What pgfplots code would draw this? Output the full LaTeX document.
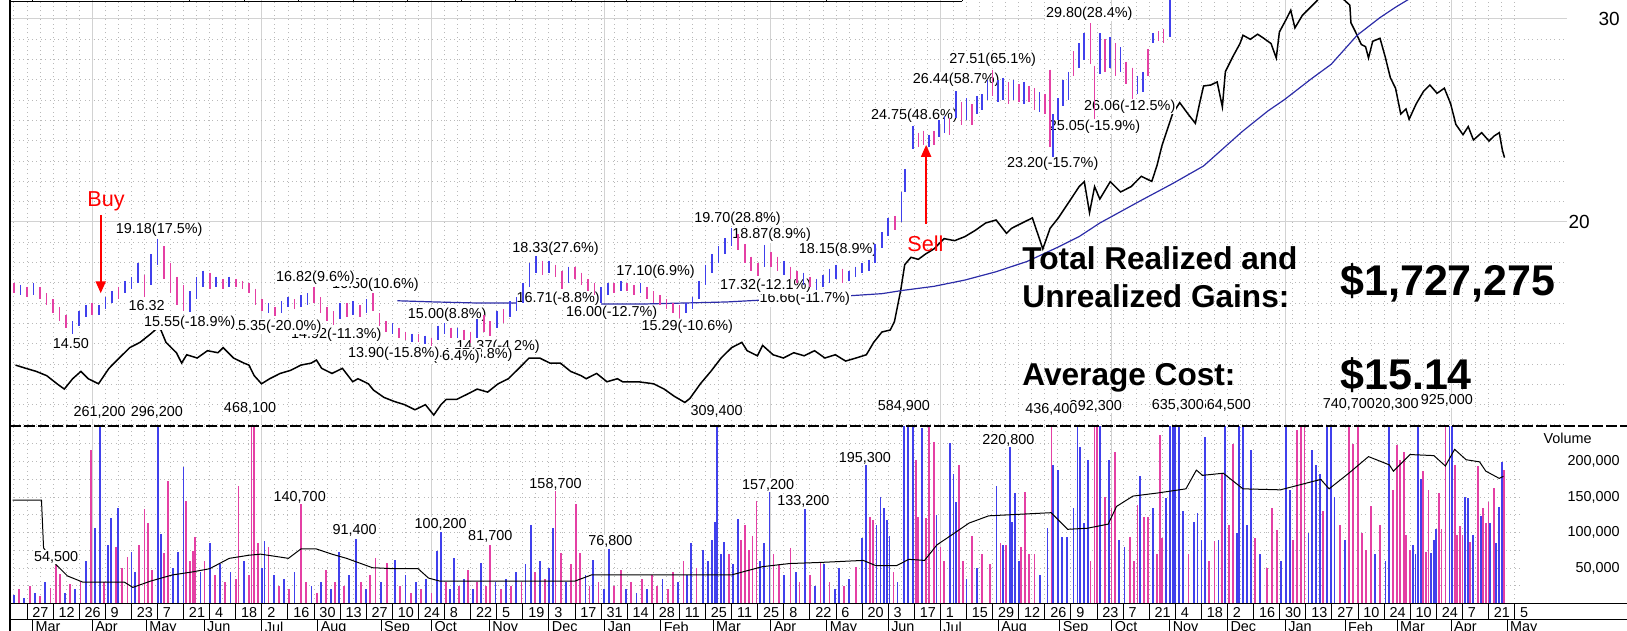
\documentclass[border=0pt]{standalone}
\usepackage{fontspec}
\setmainfont{Liberation Sans}
\usepackage{pgfplots}
\usepackage{pgfplotstable}
\pgfplotsset{compat=1.18}
\usetikzlibrary{arrows.meta}

\definecolor{barblue}{RGB}{64,64,236}
\definecolor{barpink}{RGB}{228,64,164}
\definecolor{maline}{RGB}{44,44,168}
\definecolor{gridsolid}{RGB}{210,210,210}
\definecolor{griddot}{RGB}{185,185,185}
\definecolor{sigred}{RGB}{255,0,0}
\newcommand{\sm}{\fontsize{7.2}{8.4}\selectfont}

% ---------- price bars (x = weeks since Mon 27 Feb 2012) ----------
\pgfplotstableread{
w lo hi
-0.5 16.4 16.9
0.5 16.4 17.0
3.5 14.50 15.1
4.0 14.9 15.6
4.5 15.3 15.9
5.5 15.4 15.9
6.0 15.7 16.3
6.5 16.0 16.6
7.5 16.5 17.1
8.0 16.7 17.3
8.5 17.0 18.0
9.5 16.9 18.4
10.0 17.9 19.18
12.5 15.55 16.6
13.0 16.2 17.3
13.5 16.8 17.6
14.5 16.8 17.3
15.5 16.8 17.3
18.5 15.5 16.0
19.5 15.5 16.1
20.0 15.8 16.3
21.0 15.8 16.4
21.5 15.9 16.5
24.0 15.2 16.0
25.0 15.4 16.1
26.0 15.5 16.2
28.0 14.5 15.0
29.5 14.1 14.5
30.5 14.0 14.4
31.5 14.2 14.9
32.0 14.5 15.00
33.0 14.3 14.8
34.5 14.3 15.2
36.0 14.8 15.6
37.0 15.3 16.1
37.5 15.6 16.3
38.0 16.0 17.0
38.5 16.8 18.0
39.0 17.5 18.33
40.0 17.5 18.1
41.5 17.0 17.8
44.0 16.00 16.8
44.5 16.4 17.0
45.5 16.6 17.10
47.0 16.5 17.0
50.5 15.5 16.0
51.0 15.7 16.3
51.5 16.2 17.1
52.0 16.9 17.9
52.5 17.5 18.4
53.0 18.0 18.8
53.5 18.4 19.2
54.0 18.8 19.70
56.5 17.8 18.87
58.0 17.4 18.1
59.5 16.9 17.5
60.5 16.66 17.2
61.0 16.8 17.4
61.5 17.0 17.7
62.0 17.2 17.9
63.0 17.1 17.6
63.5 17.3 17.8
64.0 17.5 18.0
64.5 17.6 18.15
65.0 18.0 18.9
65.5 18.7 19.5
66.0 19.3 20.2
67.0 20.0 21.5
67.3 21.5 22.6
67.9 23.6 24.75
69.1 23.7 24.3
69.9 24.2 25.0
70.3 24.4 25.2
71.2 25.1 26.44
72.0 25.0 26.1
72.8 25.3 26.2
73.2 25.5 26.3
73.6 26.0 27.0
74.4 25.9 27.0
74.8 26.0 27.1
75.6 26.0 27.0
76.4 25.8 26.9
77.6 25.4 26.4
78.6 23.20 25.3
79.0 25.0 26.1
79.4 25.7 27.0
79.8 26.0 27.4
80.6 27.6 28.8
81.0 28.0 29.3
82.2 27.3 29.3
83.0 27.6 29.1
83.8 27.4 28.6
85.1 26.3 27.2
85.5 26.4 27.4
86.3 28.8 29.3
87.6 29.1 31.5
}\priceup

\pgfplotstableread{
w lo hi
-1.0 16.5 17.0
0.0 16.3 16.8
1.0 16.2 16.8
1.5 15.9 16.5
2.0 15.5 16.2
2.5 15.1 15.8
3.0 14.8 15.4
5.0 15.4 16.0
7.0 16.2 16.8
9.0 16.32 17.4
10.5 17.2 18.8
11.0 16.5 18.0
11.5 15.9 17.3
12.0 15.6 16.9
14.0 16.7 17.5
15.0 16.7 17.2
16.0 16.8 17.2
16.5 16.7 17.1
17.0 16.5 17.0
17.5 15.9 16.7
18.0 15.6 16.2
19.0 15.35 15.8
20.5 15.7 16.2
22.0 16.0 16.82
22.5 15.5 16.3
23.0 15.1 15.8
23.5 14.92 15.6
24.5 15.3 16.0
25.5 15.3 15.9
26.5 15.6 16.50
27.0 14.9 15.5
27.5 14.6 15.1
28.5 14.3 14.8
29.0 14.2 14.6
30.0 14.1 14.5
31.0 13.90 14.3
32.5 14.3 14.8
33.5 14.2 14.7
34.0 14.04 14.6
35.0 14.6 15.4
35.5 14.37 15.1
36.5 15.0 15.7
39.5 17.4 18.1
40.5 17.3 17.9
41.0 16.71 17.6
42.0 17.2 17.8
42.5 16.9 17.5
43.0 16.6 17.2
43.5 16.4 17.0
45.0 16.5 17.0
46.0 16.6 17.0
46.5 16.4 16.9
47.5 16.2 16.8
48.0 16.0 16.6
48.5 15.9 16.4
49.0 15.7 16.2
49.5 15.5 16.0
50.0 15.29 15.9
54.5 18.6 19.4
55.0 18.0 18.9
55.5 17.6 18.3
56.0 17.32 18.0
57.0 17.8 18.5
57.5 17.6 18.3
58.5 17.2 17.8
59.0 17.0 17.6
60.0 16.8 17.3
62.5 17.0 17.7
66.5 19.6 20.3
68.3 23.7 24.4
68.7 23.8 24.5
69.5 23.8 24.5
70.7 24.3 25.1
71.6 24.8 25.9
72.4 24.8 25.8
74.0 26.2 27.51
75.2 25.8 26.9
76.0 25.9 26.8
76.8 25.9 26.7
77.2 25.5 26.6
78.0 25.3 26.3
78.4 23.7 27.5
80.2 27.2 28.4
81.5 27.8 29.80
81.8 25.05 27.7
82.6 27.4 29.0
83.4 27.2 28.8
84.2 26.8 27.9
84.7 26.06 27.6
85.9 27.2 28.5
86.7 28.9 29.4
87.1 28.8 29.5
}\pricedown

% ---------- black comparison line (upper panel units) ----------
\pgfplotstableread{
w p
-0.88 12.95
-0.08 12.79
0.71 12.64
1.51 12.43
2.30 12.03
2.86 11.77
3.50 12.28
4.13 12.64
4.69 12.28
5.48 12.03
6.28 12.79
7.07 13.30
7.87 13.81
8.66 14.07
9.46 14.48
10.02 14.79
10.26 14.68
10.65 14.07
11.45 13.56
11.85 13.05
12.24 13.46
13.04 13.30
13.83 13.66
14.63 13.56
15.03 13.81
15.82 13.30
16.62 13.05
17.01 12.95
17.41 12.43
17.97 12.03
18.60 12.28
19.40 12.54
20.19 12.69
20.99 12.95
21.78 13.05
22.18 13.20
22.58 12.79
23.37 12.54
24.17 12.79
24.96 12.13
25.36 12.28
26.16 12.03
26.55 11.72
27.35 11.36
28.14 11.16
28.94 11.00
29.73 10.75
30.53 11.00
31.17 10.49
31.72 11.00
32.12 11.26
32.92 11.26
33.71 11.51
34.50 11.77
35.30 11.62
36.10 12.03
36.89 12.28
37.69 12.79
38.48 13.30
39.28 13.30
40.07 13.05
40.87 13.05
41.66 12.64
42.46 12.43
42.85 12.28
43.65 12.54
44.44 12.13
45.24 12.28
45.64 12.13
46.83 12.13
48.02 12.03
48.82 11.77
49.61 11.41
50.41 11.11
50.80 11.31
51.60 12.03
52.40 12.64
53.19 13.30
53.99 13.81
54.78 14.07
55.18 13.66
55.97 13.41
56.37 13.92
57.17 13.46
57.96 13.30
58.76 13.56
59.55 13.41
60.35 13.66
61.14 13.30
61.94 13.46
62.73 13.15
63.53 13.30
64.32 13.46
64.88 14.07
65.51 14.58
66.15 14.68
66.47 15.09
66.95 16.63
67.26 17.90
67.74 18.26
68.30 18.16
68.85 18.42
69.49 18.67
69.89 18.93
70.28 19.18
71.08 19.08
71.87 19.28
72.67 19.59
73.46 19.95
74.26 20.10
75.06 19.44
75.45 19.69
76.25 19.95
77.04 20.20
77.44 19.44
77.84 18.67
78.40 19.69
79.03 20.20
79.83 20.97
80.62 21.74
81.02 21.99
81.42 20.46
81.81 21.74
82.21 21.13
83.01 21.99
83.80 21.48
84.60 21.74
85.39 22.25
86.19 22.00
86.58 22.76
86.98 23.78
87.38 24.55
87.78 25.32
88.33 25.88
88.97 25.32
89.53 24.86
89.85 25.83
90.16 26.70
90.72 26.75
91.20 26.90
91.60 25.67
91.83 27.41
92.39 28.13
92.95 28.79
93.18 29.20
93.74 29.00
94.30 29.25
94.77 29.05
95.33 28.79
95.73 28.08
95.97 29.36
96.52 30.02
96.84 30.43
97.16 29.56
97.72 30.17
98.51 30.68
99.31 31.20
100.50 31.20
101.37 30.68
101.45 29.82
101.85 29.30
102.25 28.74
102.57 28.64
102.80 28.08
103.12 28.90
103.68 29.05
104.08 28.13
104.47 27.11
104.87 26.59
105.27 25.32
105.67 25.57
105.91 25.06
106.46 25.83
107.02 26.44
107.50 26.75
108.05 26.34
108.61 26.59
109.09 25.83
109.49 24.81
110.04 24.30
110.44 24.70
110.84 24.04
111.47 24.40
112.03 23.99
112.43 24.24
112.82 24.40
113.06 23.53
113.22 23.17
}\rsline

% ---------- blue moving average ----------
\pgfplotstableread{
w p
28.38 16.12
31.33 16.06
34.50 16.01
37.69 16.01
40.87 16.01
44.05 15.96
47.23 15.96
50.41 16.01
53.59 16.06
56.77 16.17
59.95 16.27
63.13 16.37
65.51 16.47
67.10 16.63
69.49 16.83
71.87 17.14
74.26 17.55
76.65 18.06
79.03 18.77
80.62 19.28
82.21 19.95
83.80 20.51
85.39 21.07
87.78 21.89
90.16 22.76
93.11 24.45
95.09 25.47
96.36 26.03
98.43 27.06
99.94 27.77
101.93 29.20
103.68 30.07
104.87 30.58
106.06 31.04
}\maline

% ---------- volume ----------
\pgfplotstableread{
w v
-1.0 12000
-0.2 8000
0.6 15000
1.4 30000
2.9 15000
3.7 20000
4.5 60000
5.2 106000
5.6 261200
6.2 82000
6.45 120000
7.0 135000
8.0 72000
8.3 45000
10.05 296200
10.25 98000
11.2 50000
11.6 73000
12.0 192000
13.3 45000
14.0 85000
14.8 55000
15.6 45000
16.6 60000
18.0 50000
18.2 88000
18.9 40000
19.7 35000
20.5 45000
21.8 25000
22.5 30000
23.3 20000
23.9 72000
24.7 40000
25.2 91400
26.0 20000
27.1 30000
28.2 61000
29.0 40000
29.8 30000
30.6 35000
31.4 74000
31.7 100200
32.4 20000
32.7 64000
33.5 35000
34.2 20000
34.8 57000
35.9 30000
36.7 35000
37.5 45000
38.2 55000
38.6 110000
39.3 60000
40.0 50000
40.3 106000
41.3 30000
42.8 40000
43.4 61000
44.2 20000
44.6 76800
45.9 20000
46.7 15000
47.5 20000
48.7 35000
49.9 30000
50.6 40000
50.9 85000
51.8 75000
52.2 60000
52.5 90000
52.7 115000
52.9 309400
53.2 70000
53.4 86000
54.1 55000
54.5 119000
56.2 60000
56.5 85000
56.9 157200
58.0 40000
58.9 45000
59.6 133200
60.4 25000
61.1 55000
61.9 20000
62.2 50000
63.0 35000
64.0 92000
64.3 195300
65.1 110000
65.4 150000
65.7 134000
65.9 118000
66.1 95000
66.7 30000
67.2 584900
67.5 300000
67.9 280000
68.6 247000
69.7 125000
70.7 226000
71.0 183000
71.2 143000
72.0 35000
72.8 50000
74.3 165000
74.8 82000
75.3 229000
75.5 115000
75.7 155000
76.0 60000
77.6 40000
78.2 106000
78.6 195000
79.0 188000
79.3 94000
79.7 94000
80.2 134000
80.5 300000
80.7 221000
81.0 113000
81.3 202000
82.2 270000
82.9 202000
83.7 90000
84.1 80000
85.3 179000
86.3 134000
87.3 148000
87.6 260000
87.8 635300
88.0 270000
88.3 280000
88.6 130000
89.4 115000
89.7 127000
90.0 90000
90.3 235000
91.3 90000
91.8 664500
92.7 100000
92.9 270000
93.2 260000
93.5 110000
93.8 216000
94.5 70000
96.1 60000
96.5 270000
96.8 160000
98.2 100000
98.5 216000
98.8 195000
99.1 183000
99.6 300000
99.9 270000
100.2 150000
101.0 90000
103.3 70000
104.1 60000
104.4 720300
106.2 83000
106.4 70000
106.6 300000
106.8 175000
107.6 71000
107.8 90000
108.0 105000
109.0 280000
109.2 280000
110.2 150000
110.4 148000
110.8 96000
111.4 123000
112.1 114000
112.6 85000
112.8 136000
113.0 200000
}\volup

\pgfplotstableread{
w v
-0.6 20000
0.2 25000
1.0 10000
1.8 22000
2.2 54500
2.5 42000
3.3 28000
4.1 30000
4.9 216000
5.9 30000
6.8 80000
7.3 50000
7.7 66000
8.6 82000
9.0 133000
9.3 113000
9.6 47000
10.5 71000
10.8 172000
12.2 145000
12.5 60000
12.7 74000
12.9 94000
13.6 60000
14.4 40000
15.2 30000
16.0 35000
16.2 166000
17.0 40000
17.2 468100
17.4 280000
17.7 85000
18.5 80000
19.3 25000
20.1 20000
21.0 140700
21.4 30000
22.2 15000
22.9 47000
23.6 30000
24.3 25000
25.6 30000
26.3 40000
26.7 64000
27.6 57000
28.6 25000
29.4 15000
30.2 20000
31.0 15000
32.1 30000
33.1 25000
33.8 47000
34.5 30000
35.2 25000
35.5 81700
36.3 20000
37.1 25000
37.9 30000
38.9 45000
39.7 35000
40.5 158700
40.9 71000
41.7 55000
42.1 140000
42.4 71000
43.1 25000
43.8 30000
45.0 25000
45.5 47000
46.3 30000
47.1 35000
47.9 40000
48.3 25000
49.1 20000
49.5 45000
50.3 60000
51.3 50000
53.8 70000
54.7 90000
55.0 111000
55.3 75000
55.6 95000
55.9 144000
57.2 70000
57.6 55000
58.5 78000
59.2 30000
60.0 40000
60.8 57000
61.5 30000
62.6 25000
63.5 52000
64.6 122000
64.8 118000
66.4 45000
68.1 202000
68.3 122000
68.9 120000
69.1 270000
69.5 228000
70.0 80000
70.3 60000
71.4 195000
71.7 60000
72.4 95000
73.2 70000
73.8 55000
74.6 85000
75.0 82000
76.2 80000
76.5 157000
76.8 70000
77.2 70000
78.5 436400
81.5 60000
81.8 392300
82.0 280000
82.6 150000
83.1 134000
83.4 214000
84.5 94000
84.8 60000
85.1 139000
85.6 122000
85.9 122000
86.6 70000
86.8 237000
87.0 92000
89.0 70000
90.6 60000
91.0 88000
91.6 183000
92.1 110000
92.4 225000
94.1 92000
95.0 50000
95.4 134000
95.8 104000
97.0 90000
97.3 244000
97.6 280000
97.9 270000
99.3 130000
100.6 110000
101.3 740700
101.6 225000
102.0 270000
102.3 100000
102.6 75000
103.0 137000
103.7 110000
104.7 160000
105.0 223000
105.2 202000
105.5 214000
105.7 96000
106.0 75000
107.0 186000
107.2 73000
107.4 160000
108.2 156000
108.4 105000
108.7 925000
109.4 195000
109.6 96000
109.8 109000
110.0 96000
110.6 87000
111.2 193000
111.6 134000
111.8 113000
112.0 143000
112.4 162000
113.2 188000
}\voldown

\pgfplotstableread{
w v
-1.11 145500
1.11 145500
1.27 78200
2.22 54900
3.10 38800
4.29 30000
7.47 30000
8.11 22700
9.46 31500
11.13 40200
12.72 44600
13.99 49000
15.50 63600
17.01 68000
17.89 69500
19.00 66500
20.03 63600
20.99 76800
22.18 76800
23.37 69500
24.49 63600
26.47 50400
28.14 49000
29.97 49000
30.77 35800
31.64 31500
41.98 31500
43.25 40200
53.99 40200
54.86 44600
56.37 51900
58.44 56300
60.74 57800
64.08 60700
65.04 53400
66.63 53400
67.58 62200
68.78 60700
69.73 82600
70.92 97300
72.19 113300
73.70 123500
78.47 127900
79.75 104500
81.26 106000
82.85 111800
83.49 136700
84.75 151300
86.66 155700
88.81 161500
89.61 187900
90.08 180500
91.67 183500
93.18 161500
96.05 160100
98.51 171800
99.15 174700
99.78 161500
101.29 183500
102.80 206900
104.40 195200
104.71 186400
105.98 209800
107.81 208300
108.69 193700
109.40 217100
110.28 202500
111.31 199500
111.79 186400
112.82 176200
113.14 179100
}\volma

\pgfplotsset{
  panel/.style={scale only axis, clip mode=individual, xmin=-1.303,
    axis line style={draw=none}, major tick length=0pt, minor tick length=0pt,
    xtick={5,18,31,44.29,57,70,83.14,96.43,109.14}, minor xtick={-1,0,...,114},
    xticklabels={}, xmajorgrids=true, xminorgrids=true,
    major grid style={draw=gridsolid, line width=0.5pt},
    minor grid style={draw=griddot, line width=0.5pt, dash pattern=on 0.5pt off 1.7pt}},
  pbars/.style={only marks, mark=*, mark size=0pt, mark options={draw=none, fill=none},
    error bars/.cd, y dir=minus, y explicit, error mark=none,
    error bar style={line width=0.8pt}},
}
\tikzset{lab/.style={font=\sm, fill=white, inner sep=0.5pt, text=black}}

\begin{document}
\begin{tikzpicture}
\useasboundingbox (0pt,0pt) rectangle (813.5pt,-315.5pt);

% ================= upper (price) panel =================
\begin{axis}[panel, at={(5pt,0pt)}, anchor=north west, width=778.5pt, height=212.5pt,
  xmax=118.01, ymin=10, ymax=30.936, ytick={20,30}, minor ytick={10,11,...,30},
  yticklabels={}, ymajorgrids=true, yminorgrids=true]
\addplot[black, line width=0.75pt] table[x=w,y=p] {\rsline};
\addplot[maline, line width=0.6pt] table[x=w,y=p] {\maline};
% swing labels (latest first so earlier ones lie on top)
\node[lab] at (axis cs:84.5,25.69) {26.06(-12.5\%)};
\node[lab] at (axis cs:81.8,24.70) {25.05(-15.9\%)};
\node[lab] at (axis cs:81.4,30.28) {29.80(28.4\%)};
\node[lab] at (axis cs:78.6,22.86) {23.20(-15.7\%)};
\node[lab] at (axis cs:74.0,27.98) {27.51(65.1\%)};
\node[lab] at (axis cs:71.2,27.0) {26.44(58.7\%)};
\node[lab] at (axis cs:68.0,25.22) {24.75(48.6\%)};
\node[lab] at (axis cs:62.15,18.62) {18.15(8.9\%)};
\node[lab] at (axis cs:59.6,16.21) {16.66(-11.7\%)};
\node[lab] at (axis cs:57.06,19.36) {18.87(8.9\%)};
\node[lab] at (axis cs:56.6,16.85) {17.32(-12.1\%)};
\node[lab] at (axis cs:54.45,20.18) {19.70(28.8\%)};
\node[lab] at (axis cs:50.6,14.85) {15.29(-10.6\%)};
\node[lab] at (axis cs:48.16,17.55) {17.10(6.9\%)};
\node[lab] at (axis cs:44.8,15.53) {16.00(-12.7\%)};
\node[lab] at (axis cs:40.7,16.24) {16.71(-8.8\%)};
\node[lab] at (axis cs:40.5,18.70) {18.33(27.6\%)};
\node[lab] at (axis cs:36.1,13.86) {14.37(-4.2\%)};
\node[lab] at (axis cs:34.2,13.45) {14.57(3.8\%)};
\node[lab] at (axis cs:31.5,13.37) {14.04(-6.4\%)};
\node[lab] at (axis cs:32.2,15.42) {15.00(8.8\%)};
\node[lab] at (axis cs:28.1,13.53) {13.90(-15.8\%)};
\node[lab] at (axis cs:26.7,16.93) {16.50(10.6\%)};
\node[lab] at (axis cs:23.7,14.43) {14.92(-11.3\%)};
\node[lab] at (axis cs:22.1,17.23) {16.82(9.6\%)};
\node[lab] at (axis cs:19.06,14.85) {15.35(-20.0\%)};
\node[lab] at (axis cs:12.47,15.04) {15.55(-18.9\%)};
\node[lab] at (axis cs:10.13,19.61) {19.18(17.5\%)};
\node[lab] at (axis cs:9.17,15.86) {16.32};
\node[lab] at (axis cs:3.36,14.02) {14.50};
% price bars
\addplot[barblue, pbars] table[x=w, y=hi, y error expr=\thisrow{hi}-\thisrow{lo}] {\priceup};
\addplot[barpink, pbars] table[x=w, y=hi, y error expr=\thisrow{hi}-\thisrow{lo}] {\pricedown};
% signals
\draw[sigred, line width=1pt, -{Triangle[length=6pt,width=5pt]}] (axis cs:5.65,20.35) -- (axis cs:5.65,16.49);
\node[text=sigred, font=\fontsize{10.8}{12}\selectfont] at (axis cs:6.06,21.0) {Buy};
\draw[sigred, line width=1pt, -{Triangle[length=6pt,width=5pt]}] (axis cs:68.9,19.9) -- (axis cs:68.9,23.8);
\node[text=sigred, font=\fontsize{10.8}{12}\selectfont] at (axis cs:68.85,18.95) {Sell};
% summary
\node[anchor=base west, font=\fontsize{15.8}{18}\selectfont\bfseries, inner sep=0pt] at (axis cs:76.25,17.64) {Total Realized and};
\node[anchor=base west, font=\fontsize{15.8}{18}\selectfont\bfseries, inner sep=0pt] at (axis cs:76.25,15.81) {Unrealized Gains:};
\node[anchor=base west, font=\fontsize{15.8}{18}\selectfont\bfseries, inner sep=0pt] at (axis cs:76.25,11.97) {Average Cost:};
\node[anchor=base west, font=\fontsize{21.5}{24}\selectfont\bfseries, inner sep=0pt] at (axis cs:100.61,16.40) {\$1,727,275};
\node[anchor=base west, font=\fontsize{21.5}{24}\selectfont\bfseries, inner sep=0pt] at (axis cs:100.61,11.77) {\$15.14};
% right price labels
\node[anchor=west, inner sep=0pt, font=\fontsize{9.5}{11}\selectfont] at (axis cs:120.4,30) {30};
\node[anchor=west, inner sep=0pt, font=\fontsize{9.5}{11}\selectfont] at (axis cs:118.1,20) {20};
\end{axis}

% ================= lower (volume) panel =================
\begin{axis}[panel, at={(5pt,-213pt)}, anchor=north west, width=755pt, height=88.75pt,
  xmax=114.41, ymin=0, ymax=250000, scaled y ticks=false,
  ytick={50000,100000,150000,200000},
  yticklabels={{50,000},{100,000},{150,000},{200,000}},
  minor ytick={25000,50000,75000,100000,125000,150000,175000,200000,225000,250000},
  ymajorgrids=false, yminorgrids=true,
  yticklabel pos=right, yticklabel style={font=\sm, anchor=east, xshift=50pt, inner sep=0pt}]
\addplot[ycomb, barblue, line width=0.9pt] table[x=w,y=v] {\volup};
\addplot[ycomb, barpink, line width=0.9pt] table[x=w,y=v] {\voldown};
\addplot[black, line width=0.5pt] table[x=w,y=v] {\volma};
% in-panel labels
\node[lab] at (axis cs:75.2,230300) {220,800};
\node[lab] at (axis cs:64.2,204500) {195,300};
\node[lab] at (axis cs:59.5,143400) {133,200};
\node[lab] at (axis cs:56.8,166900) {157,200};
\node[lab] at (axis cs:44.7,87000) {76,800};
\node[lab] at (axis cs:40.5,168300) {158,700};
\node[lab] at (axis cs:35.5,94100) {81,700};
\node[lab] at (axis cs:31.7,112000) {100,200};
\node[lab] at (axis cs:25.1,102500) {91,400};
\node[lab] at (axis cs:20.9,149600) {140,700};
\node[lab] at (axis cs:2.23,65100) {54,500};
% labels of bars beyond the panel top
\node[lab] at (axis cs:108.8,285600) {925,000};
\node[lab] at (axis cs:104.65,281000) {720,300};
\node[lab] at (axis cs:101.3,281000) {740,700};
\node[lab] at (axis cs:91.8,279600) {664,500};
\node[lab] at (axis cs:88.2,279600) {635,300};
\node[lab] at (axis cs:81.9,278200) {392,300};
\node[lab] at (axis cs:78.5,274000) {436,400};
\node[lab] at (axis cs:67.2,278200) {584,900};
\node[lab] at (axis cs:52.84,270100) {309,400};
\node[lab] at (axis cs:17.09,275400) {468,100};
\node[lab] at (axis cs:9.96,269700) {296,200};
\node[lab] at (axis cs:5.56,269300) {261,200};
\node[font=\sm] at (axis cs:118.05,232700) {Volume};
\end{axis}

% ================= day row =================
\begin{axis}[at={(5pt,-301.75pt)}, anchor=south west, scale only axis, width=755pt, height=2pt,
  xmin=-1.303, xmax=114.41, ymin=0, ymax=1, hide y axis, axis line style={draw=none},
  xtick pos=left, xtick={0,2,...,114},
  xticklabels={27,12,26,9,23,7,21,4,18,2,16,30,13,27,10,24,8,22,5,19,3,17,31,14,28,11,25,11,25,8,22,6,20,3,17,1,15,29,12,26,9,23,7,21,4,18,2,16,30,13,27,10,24,10,24,7,21,5},
  tick align=outside, major tick length=7.75pt, major tick style={draw=black, line width=0.5pt},
  xticklabel style={font=\sm, anchor=north west, inner sep=1pt, xshift=1.5pt, yshift=6.95pt}]
\end{axis}

% ================= month row =================
\begin{axis}[at={(5pt,-309.75pt)}, anchor=south west, scale only axis, width=755pt, height=2pt,
  xmin=-1.303, xmax=114.41, ymin=0, ymax=1, hide y axis, axis line style={draw=none},
  xtick pos=left,
  xtick={0.43,5,9.14,13.57,18,22.29,27.14,31,35.43,40,44.29,48.57,52.57,57,61.29,66,70,74.43,79.14,83.14,87.57,92,96.43,101,105,109.14,113.43},
  xticklabels={Mar,Apr,May,Jun,Jul,Aug,Sep,Oct,Nov,Dec,Jan,Feb,Mar,Apr,May,Jun,Jul,Aug,Sep,Oct,Nov,Dec,Jan,Feb,Mar,Apr,May},
  tick align=outside, major tick length=6pt, major tick style={draw=black, line width=0.5pt},
  xticklabel style={font=\sm, anchor=north west, inner sep=1pt, xshift=0.3pt, yshift=6pt}]
\end{axis}

% ================= frame lines =================
\draw[black, line width=0.5pt] (5pt,-301.75pt) -- (813.5pt,-301.75pt);
\draw[black, line width=0.5pt] (5pt,-309.75pt) -- (813.5pt,-309.75pt);
\draw[black, line width=0.6pt] (5pt,0pt) -- (5pt,-315.5pt);
\draw[black, line width=0.75pt, dash pattern=on 5.5pt off 1.5pt] (5pt,-213pt) -- (813.5pt,-213pt);
\draw[black, line width=0.6pt] (5pt,-0.7pt) -- (481pt,-0.7pt);
\foreach \x in {16,94.5,122,149,176.5,203.5,230.5,257.5,285.5,313,413,481}
  \draw[black, line width=0.5pt] (\x pt,-0.7pt) -- (\x pt,0pt);
\end{tikzpicture}
\end{document}
